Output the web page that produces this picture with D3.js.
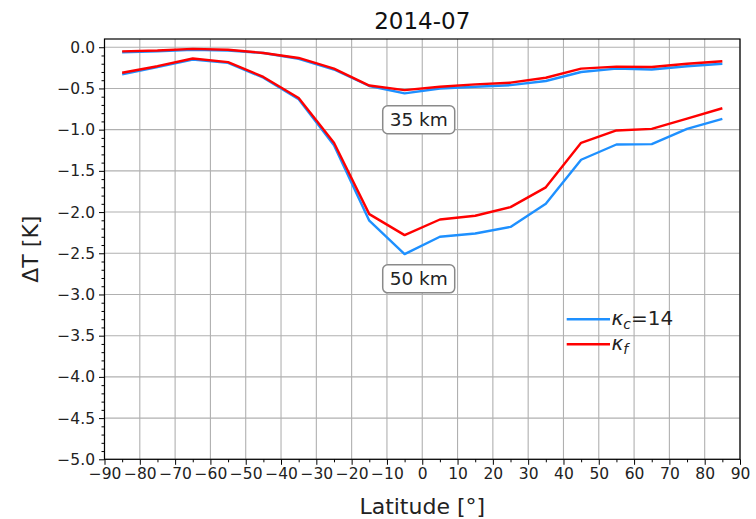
<!DOCTYPE html>
<html>
<head>
<meta charset="utf-8">
<script src="https://cdn.jsdelivr.net/npm/d3@7"></script>
<style>
  html, body { margin: 0; padding: 0; background: #fff; }
  svg { display: block; font-family: "DejaVu Sans", sans-serif; }
</style>
</head>
<body>
<svg id="chart" width="756" height="519"></svg>
<script>
// Zonal-mean temperature change by latitude, two altitude levels, two kappa settings
const latitudes = [-85, -75, -65, -55, -45, -35, -25, -15, -5, 5, 15, 25, 35, 45, 55, 65, 75, 85];

const kc35 = [-0.06, -0.05, -0.03, -0.04, -0.07, -0.14, -0.27, -0.47, -0.56, -0.50, -0.48, -0.46, -0.41, -0.30, -0.26, -0.27, -0.23, -0.20];
const kf35 = [-0.05, -0.04, -0.02, -0.03, -0.07, -0.13, -0.26, -0.465, -0.52, -0.48, -0.45, -0.43, -0.37, -0.26, -0.235, -0.24, -0.20, -0.17];
const kc50 = [-0.33, -0.24, -0.15, -0.19, -0.37, -0.63, -1.19, -2.105, -2.51, -2.30, -2.26, -2.18, -1.90, -1.365, -1.18, -1.175, -0.99, -0.87];
const kf50 = [-0.31, -0.23, -0.137, -0.18, -0.36, -0.615, -1.16, -2.025, -2.28, -2.09, -2.045, -1.94, -1.70, -1.16, -1.01, -0.99, -0.866, -0.74];

const xTicks = d3.range(-90, 91, 10);
const yTicks = d3.range(-5, 0.001, 0.5).map(v => +v.toFixed(1));

const levelLabels = [
  { text: "35 km", lat: -1, dT: -0.88 },
  { text: "50 km", lat: -1, dT: -2.81 }
];

const title = "2014-07";
const xLabel = "Latitude [°]";
const yLabel = "ΔT [K]";

const blue = "#1e90ff";
const red = "#ff0000";

const svg = d3.select("#chart");
const plotLeft = 104.5, plotRight = 740, plotTop = 39, plotBottom = 459.3;

const x = d3.scaleLinear().domain([-90, 90]).range([plotLeft, plotRight]);
const y = d3.scaleLinear().domain([-5, 0.1]).range([plotBottom, plotTop]);

// grid
const grid = svg.append("g").attr("stroke", "#b0b0b0").attr("stroke-width", 1.1);
grid.selectAll("line.v").data(xTicks).join("line").attr("class", "v")
  .attr("x1", d => x(d)).attr("x2", d => x(d))
  .attr("y1", plotTop).attr("y2", plotBottom);
grid.selectAll("line.h").data(yTicks).join("line").attr("class", "h")
  .attr("x1", plotLeft).attr("x2", plotRight)
  .attr("y1", d => y(d)).attr("y2", d => y(d));

// series lines
const line = d3.line().x((d, i) => x(latitudes[i])).y(d => y(d));
const series = [
  { vals: kc35, color: blue },
  { vals: kc50, color: blue },
  { vals: kf35, color: red },
  { vals: kf50, color: red }
];
svg.append("g").selectAll("path").data(series).join("path")
  .attr("d", d => line(d.vals))
  .attr("fill", "none")
  .attr("stroke", d => d.color)
  .attr("stroke-width", 2.4)
  .attr("stroke-linejoin", "round");

// axes
const fmtX = d3.format("d");
const fmtY = d3.format(".1f");

const xAxis = svg.append("g").attr("transform", `translate(0,${plotBottom})`)
  .call(d3.axisBottom(x).tickValues(xTicks).tickFormat(fmtX).tickSize(5.5).tickPadding(3));
const xMinor = svg.append("g").attr("transform", `translate(0,${plotBottom})`)
  .call(d3.axisBottom(x).tickValues(d3.range(-85, 90, 10)).tickFormat("").tickSize(3));

const yAxis = svg.append("g").attr("transform", `translate(${plotLeft},0)`)
  .call(d3.axisLeft(y).tickValues(yTicks).tickFormat(fmtY).tickSize(5.5).tickPadding(4));
const yMinorVals = d3.range(-50, 1, 1).map(v => v / 10).filter(v => Math.abs(Math.round(v * 2) - v * 2) > 1e-6);
const yMinor = svg.append("g").attr("transform", `translate(${plotLeft},0)`)
  .call(d3.axisLeft(y).tickValues(yMinorVals).tickFormat("").tickSize(3));

[xAxis, yAxis, xMinor, yMinor].forEach(g => {
  g.select(".domain").remove();
  g.selectAll("line").attr("stroke", "#000").attr("stroke-width", 1);
  g.selectAll("text").attr("font-family", "DejaVu Sans").attr("font-size", 15.5).attr("fill", "#222");
});

// frame
svg.append("rect")
  .attr("x", plotLeft).attr("y", plotTop)
  .attr("width", plotRight - plotLeft).attr("height", plotBottom - plotTop)
  .attr("fill", "none").attr("stroke", "#000").attr("stroke-width", 1.2);

// level annotations
const lab = svg.append("g");
levelLabels.forEach(l => {
  const cx = x(l.lat), cy = y(l.dT);
  const w = 72, h = 28;
  lab.append("rect")
    .attr("x", cx - w / 2).attr("y", cy - h / 2)
    .attr("width", w).attr("height", h)
    .attr("rx", 5).attr("ry", 5)
    .attr("fill", "#fff").attr("stroke", "#8a8a8a").attr("stroke-width", 1.5);
  lab.append("text")
    .attr("x", cx).attr("y", cy + 6.5)
    .attr("text-anchor", "middle")
    .attr("font-size", 18.5).attr("fill", "#222")
    .text(l.text);
});

// legend
const legend = svg.append("g");
const legendItems = [
  { color: blue, sub: "c", rest: "=14" },
  { color: red, sub: "f", rest: "" }
];
legendItems.forEach((it, i) => {
  const ly = 319.3 + i * 25;
  legend.append("line")
    .attr("x1", 566.7).attr("x2", 610)
    .attr("y1", ly).attr("y2", ly)
    .attr("stroke", it.color).attr("stroke-width", 2.4);
  const t = legend.append("text")
    .attr("x", 611.5).attr("y", ly + 6)
    .attr("font-size", 20).attr("fill", "#222");
  t.append("tspan").attr("font-style", "italic").text("κ");
  t.append("tspan").attr("font-style", "italic").attr("font-size", 14).attr("dy", 4).text(it.sub);
  if (it.rest) t.append("tspan").attr("dy", -4).text(it.rest);
});

// titles
svg.append("text")
  .attr("x", (plotLeft + plotRight) / 2).attr("y", 28.7)
  .attr("text-anchor", "middle")
  .attr("font-size", 23).attr("fill", "#111")
  .text(title);

svg.append("text")
  .attr("x", (plotLeft + plotRight) / 2).attr("y", 514)
  .attr("text-anchor", "middle")
  .attr("font-size", 22).attr("fill", "#222")
  .text(xLabel);

svg.append("text")
  .attr("transform", `translate(38,${(plotTop + plotBottom) / 2}) rotate(-90)`)
  .attr("text-anchor", "middle")
  .attr("font-size", 22).attr("fill", "#222")
  .text(yLabel);
</script>
</body>
</html>
